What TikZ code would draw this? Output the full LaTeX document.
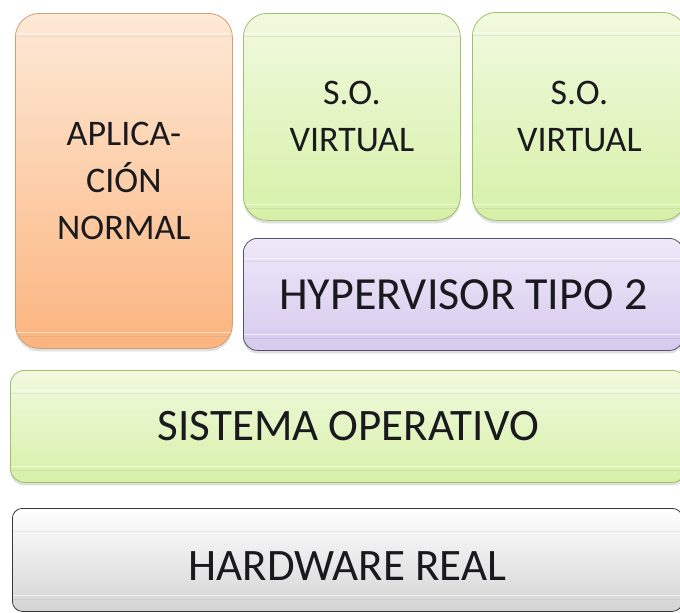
\documentclass[tikz,border=0pt]{standalone}
\usepackage{fontspec}
\setmainfont{Carlito}
\usetikzlibrary{shadows}
\definecolor{orTop}{RGB}{253,233,214}
\definecolor{orBot}{RGB}{251,180,126}
\definecolor{orLine}{RGB}{205,160,120}
\definecolor{grTop}{RGB}{241,250,222}
\definecolor{grBot}{RGB}{214,240,168}
\definecolor{grLine}{RGB}{160,190,110}
\definecolor{puTop}{RGB}{238,232,249}
\definecolor{puBot}{RGB}{214,202,238}
\definecolor{puLine}{RGB}{90,80,110}
\definecolor{gyBot}{RGB}{212,212,212}
\definecolor{gyLine}{RGB}{55,55,55}
\definecolor{txt}{RGB}{25,25,30}
\begin{document}
\begin{tikzpicture}[x=1pt,y=-1pt,
  box/.style={draw, rounded corners=#1, line width=0.8pt, anchor=north west, inner sep=0pt, align=center, text=txt,
    path picture={
      \draw[white, opacity=0.7, line width=1pt] ([yshift=-20pt]path picture bounding box.north west) -- ([yshift=-20pt]path picture bounding box.north east);
      \draw[black, opacity=0.06, line width=1pt] ([yshift=-23pt]path picture bounding box.north west) -- ([yshift=-23pt]path picture bounding box.north east);
      \draw[white, opacity=0.6, line width=1pt] ([yshift=16pt]path picture bounding box.south west) -- ([yshift=16pt]path picture bounding box.south east);
      \draw[black, opacity=0.06, line width=1pt] ([yshift=12pt]path picture bounding box.south west) -- ([yshift=12pt]path picture bounding box.south east);
    }},
  orangebox/.style={box=24pt, draw=orLine, top color=orTop, bottom color=orBot},
  greenbox/.style={box=24pt, draw=grLine, top color=grTop, bottom color=grBot},
  purplebox/.style={box=14pt, draw=puLine, top color=puTop, bottom color=puBot},
  graybox/.style={box=10pt, draw=gyLine, top color=white, bottom color=gyBot},
  sh/.style={drop shadow={opacity=0.25, shadow xshift=0pt, shadow yshift=-3pt}},
  fsmall/.style={font=\fontsize{36}{47}\selectfont},
  fbig/.style={font=\fontsize{45}{50}\selectfont},
  label/.style={inner sep=0pt, text=txt}
]
\useasboundingbox[fill=white] (0,0) rectangle (680,613);
\node[orangebox, sh, minimum width=217pt, minimum height=335pt, fsmall] (app) at (15,13) {APLICA-\\CIÓN\\NORMAL};
\node[greenbox, sh, minimum width=217pt, minimum height=207pt, fsmall] (so1) at (243,13) {S.O.\\VIRTUAL};
\node[greenbox, sh, minimum width=214pt, minimum height=208pt, fsmall] (so2) at (472,12) {S.O.\\VIRTUAL};
\node[purplebox, sh, minimum width=440pt, minimum height=112pt, font=\fontsize{46}{50}\selectfont] (hyp) at (243,238) {HYPERVISOR TIPO 2};
\node[greenbox, box=14pt, sh, minimum width=676pt, minimum height=112pt, fbig] (sis) at (10,370) {SISTEMA OPERATIVO};
\node[graybox, minimum width=670pt, minimum height=103pt] (hw) at (12,508) {};
\node[label, fbig] (hwtxt) at ([yshift=-6pt]hw.center) {HARDWARE REAL};
\end{tikzpicture}
\end{document}
